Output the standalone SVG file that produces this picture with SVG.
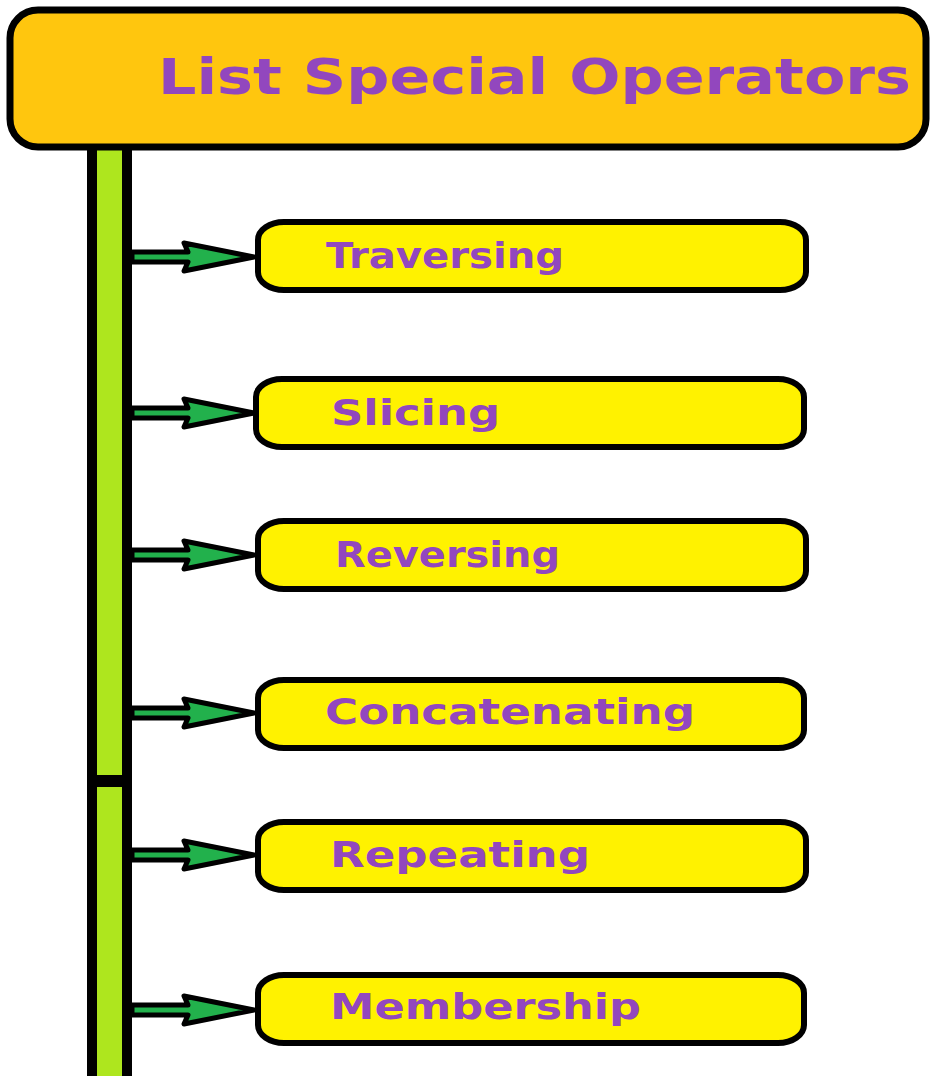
<svg xmlns="http://www.w3.org/2000/svg" width="932" height="1076" viewBox="0 0 932 1076">
  <style>
    .bar { fill: #AEE61E; stroke: #000; stroke-width: 10; }
    .box { fill: #FFF200; stroke: #000; stroke-width: 6; }
    .title-box { fill: #FFC60E; stroke: #000; stroke-width: 7; }
    .label { font-family: "DejaVu Sans", Verdana, sans-serif; font-weight: bold; fill: #9247BE; }
    .arrow { fill: #22B14C; stroke: #000; stroke-width: 5; stroke-linejoin: round; }
  </style>
  <rect width="932" height="1076" fill="#FFFFFF"/>
  <g id="trunk">
    <rect class="bar" x="92" y="140" width="35" height="640"/>
    <rect class="bar" x="92" y="782" width="35" height="310"/>
  </g>
  <g id="title">
    <rect class="title-box" x="10" y="10" width="916" height="137" rx="28" ry="28"/>
    <text class="label" x="158" y="94" font-size="50" textLength="753" lengthAdjust="spacingAndGlyphs">List Special Operators</text>
  </g>
  <g id="connectors">
    <polygon class="arrow" points="132,252 188,252 184,243 254,257 184,271 188,262 132,262"/>
    <polygon class="arrow" points="132,408 188,408 184,399 254,413 184,427 188,418 132,418"/>
    <polygon class="arrow" points="132,550 188,550 184,541 254,555 184,569 188,560 132,560"/>
    <polygon class="arrow" points="132,708 188,708 184,699 254,713 184,727 188,718 132,718"/>
    <polygon class="arrow" points="132,850 188,850 184,841 254,855 184,869 188,860 132,860"/>
    <polygon class="arrow" points="132,1005 188,1005 184,996 254,1010 184,1024 188,1015 132,1015"/>
  </g>
  <g id="traversing">
    <rect class="box" x="258" y="222" width="548" height="68" rx="26" ry="18"/>
    <text class="label" x="326" y="268" font-size="36" textLength="238" lengthAdjust="spacingAndGlyphs">Traversing</text>
  </g>
  <g id="slicing">
    <rect class="box" x="256" y="379" width="548" height="68" rx="26" ry="18"/>
    <text class="label" x="331" y="425" font-size="36" textLength="169" lengthAdjust="spacingAndGlyphs">Slicing</text>
  </g>
  <g id="reversing">
    <rect class="box" x="258" y="521" width="548" height="68" rx="26" ry="18"/>
    <text class="label" x="335" y="567" font-size="36" textLength="225" lengthAdjust="spacingAndGlyphs">Reversing</text>
  </g>
  <g id="concatenating">
    <rect class="box" x="258" y="680" width="546" height="68" rx="26" ry="18"/>
    <text class="label" x="325" y="724" font-size="36" textLength="370" lengthAdjust="spacingAndGlyphs">Concatenating</text>
  </g>
  <g id="repeating">
    <rect class="box" x="258" y="822" width="548" height="68" rx="26" ry="18"/>
    <text class="label" x="330" y="867" font-size="36" textLength="260" lengthAdjust="spacingAndGlyphs">Repeating</text>
  </g>
  <g id="membership">
    <rect class="box" x="258" y="975" width="546" height="68" rx="26" ry="18"/>
    <text class="label" x="330" y="1019" font-size="36" textLength="311" lengthAdjust="spacingAndGlyphs">Membership</text>
  </g>
</svg>
